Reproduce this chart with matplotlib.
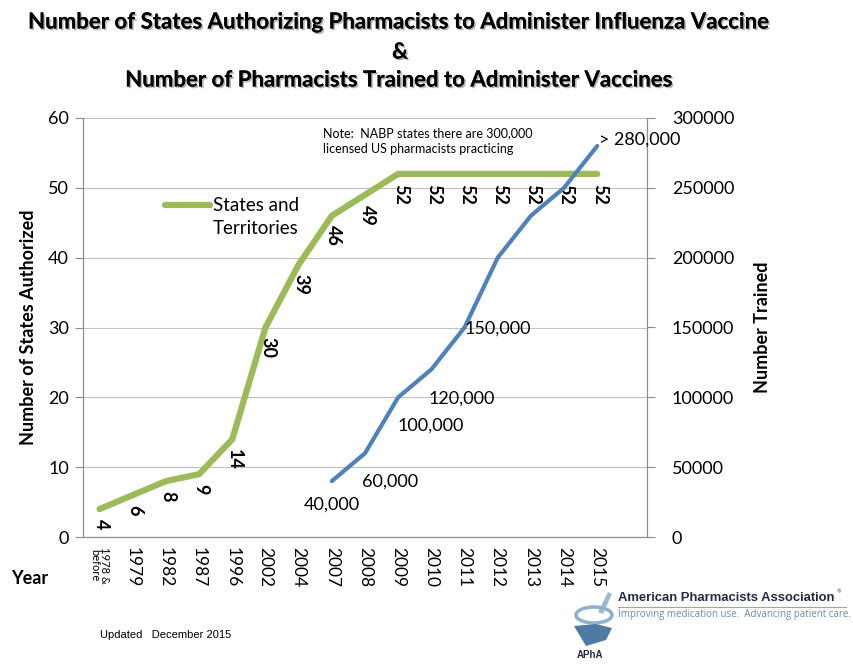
import matplotlib
matplotlib.use("Agg")
import matplotlib.pyplot as plt
import matplotlib.patheffects as pe
from matplotlib.patches import Ellipse, Polygon
import numpy as np

# ---- data ----
years = ["1978 &\nbefore", "1979", "1982", "1987", "1996", "2002", "2004", "2007",
         "2008", "2009", "2010", "2011", "2012", "2013", "2014", "2015"]
states = [4, 6, 8, 9, 14, 30, 39, 46, 49, 52, 52, 52, 52, 52, 52, 52]
trained_years = ["2007", "2008", "2009", "2010", "2011", "2012", "2013", "2014", "2015"]
trained = [40000, 60000, 100000, 120000, 150000, 200000, 230000, 250000, 280000]
trained_labels = {"2007": "40,000", "2008": "60,000", "2009": "100,000",
                  "2010": "120,000", "2011": "150,000", "2015": "> 280,000"}

# layout-only offsets (pixels) for blue labels: (dx, dy, ha)
label_offsets = {"2007": (0, -23, "center"), "2008": (25, -28, "center"),
                 "2009": (33, -28, "center"), "2010": (30, -29, "center"),
                 "2011": (0, -1, "left"), "2015": (2, 6, "left")}

FONT = "Lato"
GREEN = "#9BBB59"
BLUE = "#4F81BD"
GRID = "#C0C0C0"
AXC = "#8C8C8C"

fig = plt.figure(figsize=(8.54, 6.64), dpi=100)
W, H = 854, 664
ax = fig.add_axes([83 / W, (H - 537) / H, (647 - 83) / W, (537 - 118) / H])
ax2 = ax.twinx()

x = np.arange(len(years))
xi = {y: i for i, y in enumerate(years)}

ax.plot(x, states, color=GREEN, lw=4.5, solid_capstyle="round",
        solid_joinstyle="round", label="States and\nTerritories", zorder=3)
tx = [xi[y] for y in trained_years]
ax2.plot(tx, trained, color=BLUE, lw=3, solid_capstyle="round",
         solid_joinstyle="round", zorder=3)

ax.set_xlim(-0.5, len(years) + 0.5)
ax.set_ylim(0, 60)
ax2.set_ylim(0, 300000)
ax.set_yticks(np.arange(0, 61, 10))
ax2.set_yticks(np.arange(0, 300001, 50000))
ax.yaxis.grid(True, color=GRID, lw=0.8)
ax.set_axisbelow(True)

for a in (ax, ax2):
    for s in a.spines.values():
        s.set_color(AXC)
        s.set_linewidth(0.8)
    a.spines["top"].set_visible(False)

ax.tick_params(axis="y", length=6, color=AXC, labelsize=13, pad=4)
ax2.tick_params(axis="y", length=6, color=AXC, labelsize=13, pad=12)
ax.tick_params(axis="x", length=0, pad=7)
for lab in ax.get_yticklabels() + ax2.get_yticklabels():
    lab.set_fontfamily(FONT)

ax.set_xticks(x)
ax.set_xticklabels(years, rotation=270, fontfamily=FONT, fontsize=12.5,
                   va="top", ha="center")
tl = ax.get_xticklabels()
tl[0].set_fontsize(8)
tl[0].set_linespacing(0.9)

# green labels
for i, v in enumerate(states):
    ax.annotate(str(v), (x[i], v), xytext=(1.5, -7), textcoords="offset points",
                rotation=270, ha="center", va="top", fontsize=13,
                fontweight="bold", fontfamily=FONT, zorder=4)

# blue labels
for y, v in zip(trained_years, trained):
    if y in trained_labels:
        dx, dy, ha = label_offsets[y]
        ax2.annotate(trained_labels[y], (xi[y], v), xytext=(dx * 0.72, dy * 0.72),
                     textcoords="offset points", ha=ha, va="center",
                     fontsize=13, fontfamily=FONT, zorder=4)

ax.set_ylabel("Number of States Authorized", fontsize=13, fontweight="bold",
              fontfamily=FONT, labelpad=8)
ax2.set_ylabel("Number Trained", fontsize=13, fontweight="bold",
               fontfamily=FONT, labelpad=14)

leg = ax.legend(loc="upper left", bbox_to_anchor=(0.115, 0.852), frameon=False,
                handlelength=2.4, handletextpad=0.15, handleheight=1.1,
                prop={"family": FONT, "size": 13.5})
leg.get_texts()[0].set_linespacing(1.45)
try:
    item = leg._legend_handle_box.get_children()[0].get_children()[0]
    item.align = "top"
except Exception:
    pass

ax.text(0.425, 0.978, "Note:  NABP states there are 300,000\nlicensed US pharmacists practicing",
        transform=ax.transAxes, fontsize=9, fontfamily=FONT, va="top", ha="left",
        linespacing=1.35)

shadow = [pe.withSimplePatchShadow(offset=(1.2, -1.2), shadow_rgbFace="#888888", alpha=0.6),
          pe.Normal()]
for txt, yy in [("Number of States Authorizing Pharmacists to Administer Influenza Vaccine", 22),
                ("&", 52),
                ("Number of Pharmacists Trained to Administer Vaccines", 80)]:
    fig.text(400 / W, 1 - yy / H, txt, ha="center", va="center", fontsize=16,
             fontweight="bold", fontfamily=FONT, path_effects=shadow)

fig.text(30 / W, 1 - 578 / H, "Year", ha="center", va="center", fontsize=13,
         fontweight="bold", fontfamily=FONT)
fig.text(100 / W, 1 - 635 / H, "Updated   December 2015", ha="left", va="center",
         fontsize=8, fontfamily="Liberation Sans")

# logo (simple approximation)
fig.text(618 / W, 1 - 598 / H, "American Pharmacists Association", ha="left",
         va="center", fontsize=9.4, fontweight="bold", fontfamily="Liberation Sans",
         color="#1F2A44")
fig.text(836 / W, 1 - 592 / H, "\u00ae", ha="left", va="center", fontsize=3.5,
         fontfamily="DejaVu Sans", color="#1F2A44")
fig.add_artist(plt.Line2D([618 / W, 846 / W], [1 - 607 / H, 1 - 607 / H],
                          color="#9AA5B5", lw=0.8))
fig.text(618 / W, 1 - 615 / H, "Improving medication use.  Advancing patient care.",
         ha="left", va="center", fontsize=7, fontfamily="Open Sans", color="#6A8CB0")
fig.text(590 / W, 1 - 655 / H, "APhA", ha="center", va="center", fontsize=7,
         fontweight="bold", fontfamily="Liberation Sans", color="#1F2A44")
fig.add_artist(Polygon([[598 / W, 1 - 612 / H], [608 / W, 1 - 592 / H],
                        [612 / W, 1 - 594 / H], [603 / W, 1 - 614 / H]],
                       closed=True, facecolor="#9DBAD3", edgecolor="none"))
fig.add_artist(Ellipse((594 / W, 1 - 615 / H), 36 / W, 16 / H, facecolor="none",
                       edgecolor="#8FB0CC", lw=2.5))
fig.add_artist(Polygon([[574 / W, 1 - 626 / H], [596 / W, 1 - 624 / H],
                        [612 / W, 1 - 628 / H], [606 / W, 1 - 640 / H],
                        [586 / W, 1 - 646 / H]],
                       closed=True, facecolor="#4F7BA3", edgecolor="none"))

fig.savefig("out.png", dpi=100)
